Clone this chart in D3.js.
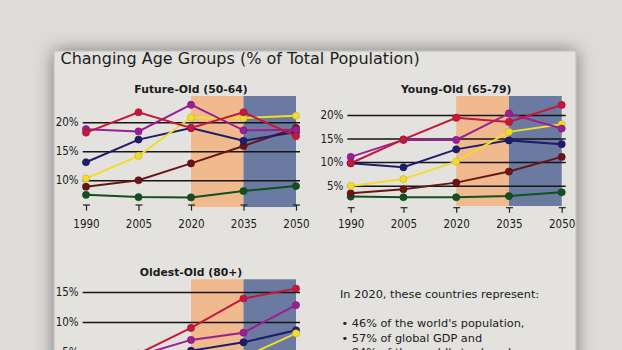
<!DOCTYPE html>
<html>
<head>
<meta charset="utf-8">
<script src="https://cdn.jsdelivr.net/npm/d3@7"></script>
<style>
  html, body { margin: 0; padding: 0; background: #dddcd9; overflow: hidden; }
  svg { display: block; font-family: "DejaVu Sans", sans-serif; }
  .cond { font-family: "DejaVu Sans Condensed", "DejaVu Sans", sans-serif; font-stretch: condensed; }
</style>
</head>
<body>
<div id="main"></div>
<script>
var ctx = { w: 622, h: 350 };

// data
var years = [1990, 2005, 2020, 2035, 2050];
var seriesNames = ["green", "maroon", "navy", "yellow", "purple", "red"];
var seriesColors = ["#12501f", "#6a1515", "#1f1c6b", "#f2dc2c", "#9a1e94", "#c4183c"];

var futureOld = {
    green:  [7.5, 7.1, 7.05, 8.15, 9.0],
    maroon: [8.9, 10.0, 12.9, 15.9, 19.0],
    navy:   [13.1, 17.0, 19.0, 16.8, 18.3],
    yellow: [10.3, 14.2, 20.8, 20.7, 21.1],
    purple: [18.8, 18.4, 23.0, 18.6, 18.7],
    red:    [18.2, 21.7, 19.0, 21.7, 17.6]
};
var youngOld = {
    green:  [2.7, 2.55, 2.55, 2.8, 3.6],
    maroon: [3.4, 4.25, 5.65, 8.0, 11.1],
    navy:   [9.75, 8.9, 12.7, 14.6, 13.8],
    yellow: [4.95, 6.4, 10.1, 16.4, 18.0],
    purple: [11.1, 14.7, 14.7, 20.3, 17.1],
    red:    [9.75, 14.8, 19.4, 18.5, 22.1]
};
var oldestOld = {
    green:  [0.5, 0.6, 0.7, 0.9, 1.3],
    maroon: [1.2, 1.6, 2.2, 3.1, 4.2],
    navy:   [2.5, 3.5, 5.2, 6.6, 8.6],
    yellow: [1.0, 1.5, 2.5, 4.1, 8.1],
    purple: [3.0, 4.4, 7.0, 8.2, 12.8],
    red:    [3.3, 4.7, 9.0, 13.9, 15.55]
};

var futureTicks = [10, 15, 20];
var youngTicks = [5, 10, 15, 20];
var oldestTicks = [5, 10, 15];

var noteLines = [
    "In 2020, these countries represent:",
    "",
    "\u2022 46% of the world's population,",
    "\u2022 57% of global GDP and",
    "\u2022 84% of the world's trade volume"
];

var charts = [
    { title: "Future-Old (50-64)", data: futureOld, ticks: futureTicks,
      x0: 86, x1: 296, domain: [5.4, 24.5], y0: 207, y1: 96, titleY: 93.3, axisY: 205, tickLen: 5.7, pad: 8.8 },
    { title: "Young-Old (65-79)", data: youngOld, ticks: youngTicks,
      x0: 350.7, x1: 561.7, domain: [0.7, 24], y0: 206, y1: 96, titleY: 93.3, axisY: 207.7, tickLen: 5, pad: 6.7 },
    { title: "Oldest-Old (80+)", data: oldestOld, ticks: oldestTicks,
      x0: 86, x1: 296, domain: [0, 17.1], y0: 381.9, y1: 279.3, titleY: 276, axisY: null }
];

var svg = d3.select("#main").append("svg")
    .attr("width", ctx.w)
    .attr("height", ctx.h);

var defs = svg.append("defs");
var f = defs.append("filter").attr("id", "shadow")
    .attr("x", "-20%").attr("y", "-20%").attr("width", "140%").attr("height", "140%");
f.append("feDropShadow").attr("dx", 0).attr("dy", 0)
    .attr("stdDeviation", 9).attr("flood-color", "#000").attr("flood-opacity", 0.45);

// slide panel
svg.append("rect")
    .attr("x", 54).attr("y", 51).attr("width", 522).attr("height", 340)
    .attr("fill", "#e3e2df")
    .attr("stroke", "#b4b3b0").attr("stroke-width", 0.8)
    .attr("filter", "url(#shadow)");

svg.append("text")
    .attr("x", 60.5).attr("y", 64.3)
    .attr("font-size", 16)
    .attr("fill", "#1e1e1e")
    .text("Changing Age Groups (% of Total Population)");

charts.forEach(function (c) {
    var g = svg.append("g");
    var x = d3.scalePoint().domain(years).range([c.x0, c.x1]);
    var y = d3.scaleLinear().domain(c.domain).range([c.y0, c.y1]);

    // shaded projection periods
    g.append("rect")
        .attr("x", x(2020)).attr("y", y(c.domain[1]))
        .attr("width", x(2035) - x(2020)).attr("height", y(c.domain[0]) - y(c.domain[1]))
        .attr("fill", "#f0b98e");
    g.append("rect")
        .attr("x", x(2035)).attr("y", y(c.domain[1]))
        .attr("width", x(2050) - x(2035)).attr("height", y(c.domain[0]) - y(c.domain[1]))
        .attr("fill", "#6a7aa0");

    // gridlines + % labels
    var gx = c.x0 - 3.3;
    var ya = g.append("g")
        .attr("transform", "translate(" + gx + ",0)")
        .call(d3.axisLeft(y).tickValues(c.ticks)
            .tickSize(-(c.x1 + 4 - gx)).tickPadding(4)
            .tickFormat(function (d) { return d + "%"; }));
    ya.select(".domain").remove();
    ya.selectAll(".tick line").attr("stroke", "#151515").attr("stroke-width", 1.5);
    ya.selectAll(".tick text").attr("font-size", 11.5).attr("fill", "#1a1a1a")
        .attr("font-family", null).attr("class", "cond");

    // year axis with T ticks (the bottom chart's axis is below the visible area)
    if (c.axisY !== null) {
        var xa = g.append("g")
            .attr("transform", "translate(0," + c.axisY + ")")
            .call(d3.axisBottom(x).tickSize(c.tickLen).tickPadding(c.pad));
        xa.select(".domain").remove();
        xa.selectAll(".tick line").attr("stroke", "#222").attr("stroke-width", 1.2);
        xa.selectAll(".tick").append("line")
            .attr("x1", -3.5).attr("x2", 3.5).attr("y1", 0).attr("y2", 0)
            .attr("stroke", "#222").attr("stroke-width", 1.2);
        xa.selectAll(".tick text").attr("font-size", 11.5).attr("fill", "#1a1a1a")
            .attr("font-family", null).attr("class", "cond");
    }

    // title
    g.append("text")
        .attr("x", (c.x0 + c.x1) / 2).attr("y", c.titleY)
        .attr("text-anchor", "middle")
        .attr("font-size", 10.8).attr("font-weight", "bold").attr("fill", "#1a1a1a")
        .text(c.title);

    // series
    var line = d3.line().x(function (d, i) { return x(years[i]); }).y(function (d) { return y(d); });
    seriesNames.forEach(function (name, k) {
        var vals = c.data[name];
        var col = seriesColors[k];
        g.append("path")
            .attr("d", line(vals))
            .attr("fill", "none")
            .attr("stroke", col)
            .attr("stroke-width", 2);
        g.selectAll(null)
            .data(vals)
            .enter()
            .append("circle")
            .attr("cx", function (d, i) { return x(years[i]); })
            .attr("cy", function (d) { return y(d); })
            .attr("r", 3.6)
            .attr("fill", col)
            .attr("stroke", d3.color(col).darker(0.6))
            .attr("stroke-width", 0.6);
    });
});

// note text
var note = svg.append("g").attr("font-size", 11.3).attr("fill", "#1a1a1a");
noteLines.forEach(function (t, i) {
    note.append("text")
        .attr("x", i === 0 ? 340 : 341.5)
        .attr("y", 298.3 + i * 14.5)
        .attr("fill", "#1a1a1a")
        .text(t);
});
</script>
</body>
</html>
